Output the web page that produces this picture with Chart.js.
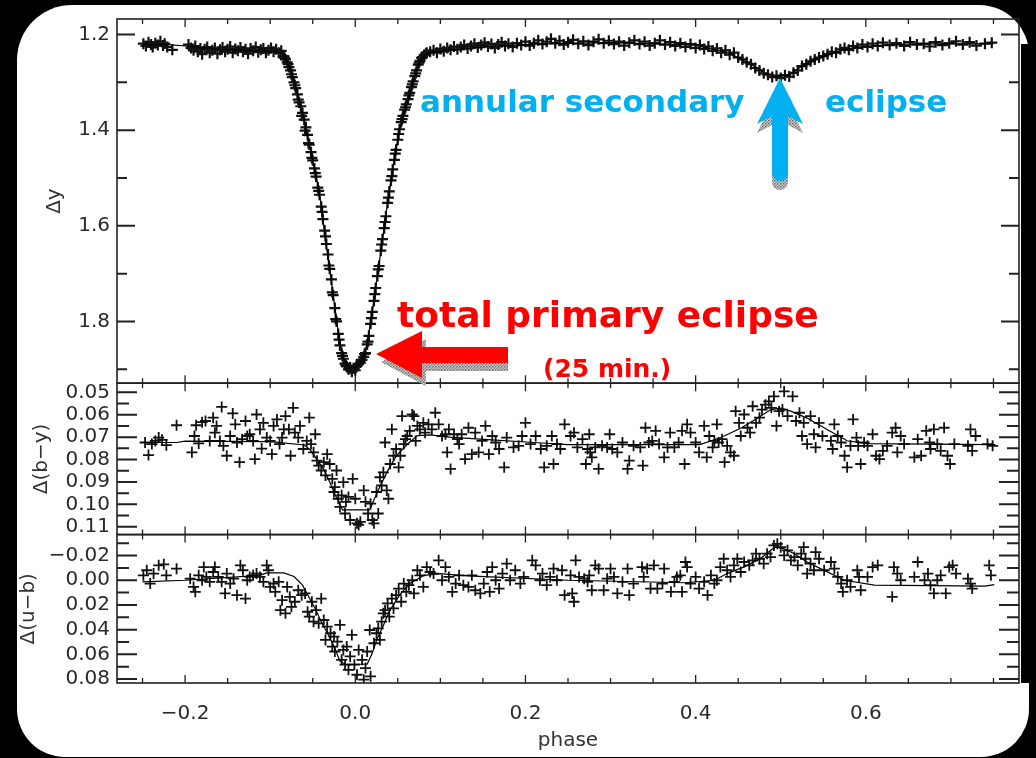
<!DOCTYPE html>
<html><head><meta charset="utf-8">
<script src="https://cdn.jsdelivr.net/npm/chart.js@4/dist/chart.umd.min.js"></script>
<style>
html,body{margin:0;padding:0;background:#000;width:1036px;height:758px;overflow:hidden;}
#panel{position:absolute;left:17px;top:5px;width:1012px;height:752px;background:#fff;border-radius:55px 50px 48px 48px;}
#strip{position:absolute;left:1021px;top:44px;width:15px;height:639px;background:#000;}
#c{position:absolute;left:0;top:0;}
svg{position:absolute;left:0;top:0;}
.ann{position:absolute;font-family:"DejaVu Sans";font-weight:bold;line-height:1;white-space:nowrap;}
</style></head><body>
<div id="panel"></div><div id="strip"></div>
<canvas id="c" width="1036" height="758"></canvas>
<svg width="1036" height="758">
<defs><pattern id="hatch" width="3" height="3" patternUnits="userSpaceOnUse"><rect width="3" height="3" fill="#d0d0d0"/><rect x="0" y="0" width="1.5" height="1.5" fill="#666"/><rect x="1.5" y="1.5" width="1.5" height="1.5" fill="#888"/></pattern></defs>
<polygon points="381,362 426,339 426,355 508,355 508,371 426,371 426,386" fill="url(#hatch)"/>
<polygon points="376,354 422,331 422,347 508,347 508,363 422,363 422,378" fill="#ff0000"/>
<path d="M780,87 L803,133 L788,125 L788,182 A8,8 0 0 1 772,182 L772,125 L757,133 Z" fill="url(#hatch)"/>
<path d="M780,78 L803,124 L788,116 L788,173 A8,8 0 0 1 772,173 L772,116 L757,124 Z" fill="#00b0f0"/>
</svg>
<div class="ann" style="left:420px;top:86px;font-size:31px;color:#00b0f0">annular secondary</div>
<div class="ann" style="left:825px;top:86px;font-size:31px;color:#00b0f0">eclipse</div>
<div class="ann" style="left:397px;top:297px;font-size:36px;color:#ff0000">total primary eclipse</div>
<div class="ann" style="left:543px;top:356px;font-size:25px;color:#ff0000">(25 min.)</div>
<script>
// ---------- data ----------
const topPhase = [-0.249,-0.246,-0.243,-0.240,-0.238,-0.235,-0.232,-0.229,-0.226,-0.224,
 -0.221,-0.215,-0.196,-0.193,-0.190,-0.188,-0.185,-0.182,-0.180,-0.177,
 -0.174,-0.171,-0.168,-0.165,-0.162,-0.159,-0.156,-0.153,-0.150,-0.147,
 -0.144,-0.141,-0.138,-0.135,-0.132,-0.129,-0.126,-0.123,-0.120,-0.117,
 -0.114,-0.111,-0.108,-0.105,-0.102,-0.099,-0.096,-0.093,-0.090,-0.087,
 -0.084,-0.082,-0.080,-0.078,-0.076,-0.074,-0.072,-0.070,-0.068,-0.066,
 -0.064,-0.062,-0.060,-0.058,-0.056,-0.054,-0.052,-0.050,-0.048,-0.046,
 -0.044,-0.042,-0.040,-0.038,-0.036,-0.034,-0.032,-0.030,-0.028,-0.026,
 -0.024,-0.022,-0.020,-0.018,-0.016,-0.014,-0.012,-0.010,-0.008,-0.006,
 -0.004,-0.002,0.000,0.002,0.004,0.006,0.008,0.010,0.012,0.014,
 0.016,0.018,0.020,0.022,0.024,0.026,0.028,0.030,0.032,0.034,
 0.036,0.038,0.040,0.042,0.044,0.046,0.048,0.050,0.052,0.054,
 0.056,0.058,0.060,0.062,0.064,0.066,0.068,0.070,0.072,0.074,
 0.076,0.078,0.081,0.084,0.088,0.092,0.096,0.100,0.104,0.108,
 0.112,0.116,0.120,0.124,0.128,0.132,0.136,0.140,0.144,0.148,
 0.152,0.156,0.160,0.164,0.168,0.172,0.176,0.180,0.185,0.190,
 0.195,0.200,0.205,0.210,0.215,0.220,0.225,0.230,0.235,0.240,
 0.245,0.250,0.256,0.262,0.268,0.274,0.280,0.286,0.292,0.298,
 0.304,0.310,0.316,0.322,0.328,0.334,0.340,0.346,0.352,0.358,
 0.364,0.370,0.376,0.382,0.388,0.394,0.400,0.405,0.410,0.415,
 0.420,0.425,0.430,0.435,0.440,0.445,0.450,0.455,0.460,0.465,
 0.470,0.475,0.480,0.485,0.490,0.495,0.500,0.505,0.510,0.515,
 0.520,0.525,0.530,0.535,0.540,0.545,0.550,0.555,0.560,0.565,
 0.570,0.575,0.580,0.585,0.590,0.596,0.602,0.608,0.614,0.620,
 0.628,0.636,0.645,0.652,0.660,0.668,0.675,0.682,0.690,0.698,
 0.706,0.714,0.722,0.730,0.740,0.748,
 -0.083,-0.079,-0.075,-0.071,-0.067,-0.063,-0.059,-0.055,-0.051,-0.047,
 -0.043,-0.039,-0.035,-0.031,-0.027,-0.023,-0.019,-0.015,-0.011,-0.007,
 0.007,0.011,0.015,0.019,0.023,0.027,0.031,0.035,0.039,0.043,
 0.047,0.051,0.055,0.059,0.063,0.067,0.071,0.075,0.079,0.083];
const topDy = [1.219,1.224,1.216,1.221,1.226,1.218,1.222,1.214,1.223,1.219,
 1.226,1.232,1.221,1.228,1.233,1.224,1.236,1.229,1.241,1.231,
 1.226,1.238,1.233,1.228,1.240,1.232,1.227,1.236,1.231,1.225,
 1.238,1.230,1.234,1.227,1.236,1.231,1.240,1.229,1.234,1.226,
 1.237,1.232,1.229,1.238,1.233,1.228,1.236,1.231,1.238,1.234,
 1.245,1.252,1.258,1.268,1.275,1.289,1.300,1.312,1.325,1.342,
 1.350,1.364,1.378,1.394,1.410,1.430,1.446,1.463,1.480,1.497,
 1.520,1.535,1.560,1.586,1.610,1.638,1.660,1.690,1.712,1.745,
 1.772,1.800,1.826,1.850,1.866,1.878,1.888,1.894,1.900,1.896,
 1.905,1.898,1.902,1.893,1.889,1.886,1.880,1.874,1.866,1.848,
 1.830,1.805,1.780,1.757,1.730,1.705,1.684,1.652,1.628,1.605,
 1.580,1.552,1.528,1.505,1.482,1.462,1.441,1.420,1.398,1.383,
 1.370,1.357,1.346,1.335,1.322,1.310,1.298,1.287,1.275,1.263,
 1.255,1.249,1.243,1.238,1.236,1.233,1.238,1.230,1.235,1.228,
 1.232,1.225,1.231,1.226,1.222,1.229,1.224,1.219,1.227,1.222,
 1.217,1.225,1.220,1.228,1.221,1.216,1.224,1.219,1.226,1.218,
 1.222,1.215,1.223,1.218,1.212,1.220,1.215,1.209,1.218,1.213,
 1.221,1.216,1.211,1.219,1.214,1.222,1.215,1.210,1.218,1.213,
 1.220,1.215,1.223,1.217,1.212,1.220,1.215,1.223,1.218,1.212,
 1.221,1.216,1.224,1.218,1.226,1.220,1.228,1.222,1.230,1.225,
 1.234,1.229,1.238,1.233,1.242,1.238,1.248,1.252,1.258,1.262,
 1.270,1.275,1.281,1.284,1.289,1.286,1.291,1.285,1.288,1.280,
 1.275,1.266,1.262,1.256,1.252,1.248,1.245,1.241,1.236,1.238,
 1.231,1.228,1.232,1.224,1.228,1.221,1.226,1.219,1.224,1.217,
 1.222,1.218,1.224,1.216,1.221,1.219,1.225,1.216,1.222,1.218,
 1.214,1.221,1.216,1.223,1.219,1.217,
 1.249,1.262,1.283,1.306,1.336,1.370,1.401,1.427,1.458,1.490,
 1.527,1.571,1.622,1.683,1.739,1.795,1.838,1.872,1.892,1.899,
 1.881,1.868,1.842,1.793,1.743,1.691,1.639,1.592,1.541,1.496,
 1.449,1.408,1.377,1.352,1.327,1.304,1.281,1.259,1.247,1.240];
const topModelPhase = [-0.25,-0.22,-0.20,-0.16,-0.12,-0.092,-0.085,-0.080,-0.075,-0.070,-0.065,-0.060,-0.055,-0.050,-0.045,-0.040,-0.035,-0.030,-0.025,-0.020,-0.016,-0.012,-0.008,0.000,0.006,0.010,0.014,0.018,0.022,0.028,0.034,0.040,0.046,0.052,0.060,0.068,0.075,0.082,0.090,0.110,0.150,0.210,0.300,0.400,0.440,0.465,0.480,0.495,0.510,0.525,0.540,0.560,0.578,0.600,0.650,0.750];
const topModelDy = [1.221,1.221,1.224,1.231,1.234,1.236,1.242,1.256,1.280,1.310,1.345,1.378,1.423,1.463,1.505,1.556,1.630,1.690,1.758,1.822,1.862,1.884,1.895,1.897,1.888,1.874,1.846,1.800,1.755,1.680,1.603,1.527,1.459,1.400,1.349,1.299,1.260,1.243,1.237,1.233,1.226,1.220,1.217,1.222,1.239,1.262,1.280,1.288,1.285,1.266,1.252,1.240,1.230,1.224,1.220,1.219];

const midPhase = [-0.247,-0.243,-0.239,-0.235,-0.231,-0.227,-0.222,-0.210,-0.192,-0.189,
 -0.187,-0.184,-0.180,-0.176,-0.171,-0.167,-0.165,-0.163,-0.159,-0.157,
 -0.155,-0.151,-0.147,-0.144,-0.141,-0.139,-0.136,-0.133,-0.129,-0.127,
 -0.124,-0.120,-0.118,-0.116,-0.112,-0.110,-0.108,-0.104,-0.100,-0.098,
 -0.096,-0.092,-0.089,-0.086,-0.084,-0.082,-0.078,-0.076,-0.073,-0.071,
 -0.067,-0.065,-0.061,-0.057,-0.054,-0.052,-0.049,-0.047,-0.045,-0.043,
 -0.040,-0.037,-0.035,-0.033,-0.030,-0.027,-0.025,-0.024,-0.022,-0.020,
 -0.018,-0.016,-0.014,-0.012,-0.011,-0.008,-0.006,-0.003,0.000,0.002,
 0.004,0.006,0.010,0.012,0.015,0.018,0.020,0.022,0.025,0.027,
 0.029,0.031,0.033,0.035,0.037,0.039,0.041,0.043,0.045,0.048,
 0.051,0.053,0.055,0.057,0.059,0.061,0.064,0.067,0.069,0.071,
 0.073,0.076,0.080,0.082,0.086,0.090,0.094,0.098,0.102,0.106,
 0.108,0.110,0.112,0.116,0.120,0.122,0.125,0.129,0.133,0.137,
 0.141,0.145,0.149,0.153,0.157,0.161,0.165,0.169,0.175,0.178,
 0.186,0.192,0.196,0.200,0.206,0.212,0.218,0.222,0.225,0.231,
 0.233,0.237,0.241,0.246,
 0.253,0.257,0.261,0.267,0.271,0.273,0.275,0.276,0.278,0.282,
 0.286,0.290,0.296,0.299,0.302,0.308,0.314,0.320,0.322,0.327,
 0.335,0.338,0.341,0.345,0.349,0.353,0.357,0.363,0.367,0.370,
 0.375,0.380,0.384,0.387,0.390,0.394,0.400,0.404,0.410,0.413,
 0.416,0.420,0.422,0.425,0.427,0.431,0.434,0.437,0.441,0.445,
 0.447,0.451,0.453,0.457,0.461,0.464,0.467,0.471,0.475,0.478,
 0.482,0.486,0.489,0.492,0.495,0.498,0.502,0.504,0.508,0.514,
 0.518,0.522,0.525,0.527,0.531,0.535,0.539,0.541,0.545,0.549,
 0.559,0.561,0.563,0.567,0.571,0.575,0.578,0.582,0.585,0.589,
 0.591,0.594,0.598,0.602,0.608,0.612,0.616,0.620,0.625,0.631,
 0.635,0.637,0.641,0.645,0.657,0.661,0.665,0.671,0.675,0.676,
 0.680,0.684,0.688,0.692,0.696,0.699,0.704,0.720,0.723,0.725,
 0.729,0.743,0.749];
const midBY = [0.0724,0.0780,0.0731,0.0717,0.0702,0.0712,0.0736,0.0647,0.0768,0.0695,
 0.0647,0.0728,0.0633,0.0628,0.0717,0.0613,0.0680,0.0650,0.0717,0.0565,
 0.0739,0.0783,0.0695,0.0594,0.0643,0.0724,0.0812,0.0709,0.0628,0.0695,
 0.0687,0.0717,0.0798,0.0599,0.0665,0.0751,0.0636,0.0702,0.0717,0.0776,
 0.0650,0.0621,0.0731,0.0702,0.0665,0.0606,0.0665,0.0783,0.0569,0.0680,
 0.0702,0.0650,0.0753,0.0717,0.0613,0.0731,0.0768,0.0687,0.0805,0.0827,
 0.0849,0.0812,0.0871,0.0776,0.0820,0.0886,0.0945,0.0923,0.0849,0.0975,
 0.1011,0.0960,0.0901,0.1041,0.0989,0.0967,0.1070,0.0886,0.0975,0.1085,
 0.1092,0.1078,0.0938,0.0989,0.1041,0.0997,0.1070,0.1085,0.0945,0.1041,
 0.0879,0.0916,0.0857,0.0724,0.0938,0.0975,0.0820,0.0665,0.0783,0.0753,
 0.0835,0.0783,0.0606,0.0731,0.0709,0.0695,0.0672,0.0599,0.0606,0.0717,
 0.0650,0.0665,0.0636,0.0680,0.0643,0.0665,0.0591,0.0643,0.0695,0.0687,
 0.0768,0.0665,0.0842,0.0687,0.0709,0.0731,0.0687,0.0798,0.0658,0.0776,
 0.0680,0.0768,0.0717,0.0650,0.0776,0.0695,0.0724,0.0753,0.0835,0.0702,
 0.0746,0.0739,0.0695,0.0636,0.0731,0.0695,0.0753,0.0835,0.0739,0.0695,
 0.0820,0.0731,0.0753,0.0643,
 0.0695,0.0680,0.0746,0.0709,0.0820,0.0753,0.0687,0.0768,0.0790,0.0746,
 0.0842,0.0739,0.0746,0.0687,0.0753,0.0768,0.0724,0.0842,0.0805,0.0739,
 0.0746,0.0827,0.0658,0.0724,0.0717,0.0672,0.0731,0.0790,0.0746,0.0680,
 0.0746,0.0724,0.0672,0.0820,0.0643,0.0680,0.0724,0.0768,0.0650,0.0790,
 0.0695,0.0746,0.0717,0.0643,0.0724,0.0709,0.0812,0.0739,0.0768,0.0783,
 0.0584,0.0636,0.0695,0.0599,0.0658,0.0680,0.0562,0.0636,0.0613,0.0577,
 0.0555,0.0540,0.0569,0.0518,0.0650,0.0584,0.0577,0.0496,0.0606,0.0518,
 0.0628,0.0591,0.0695,0.0636,0.0731,0.0606,0.0687,0.0746,0.0636,0.0695,
 0.0717,0.0753,0.0643,0.0695,0.0724,0.0783,0.0835,0.0739,0.0621,0.0702,
 0.0739,0.0820,0.0724,0.0739,0.0687,0.0783,0.0798,0.0761,0.0739,0.0680,
 0.0658,0.0768,0.0695,0.0731,0.0790,0.0709,0.0783,0.0672,0.0724,0.0753,
 0.0665,0.0731,0.0761,0.0658,0.0783,0.0820,0.0731,0.0739,0.0665,0.0761,
 0.0695,0.0731,0.0739];
const midModelPhase = [-0.25,-0.21,-0.20,-0.10,-0.06,-0.053,-0.045,-0.037,-0.030,-0.025,-0.015,0.017,0.022,0.029,0.039,0.049,0.061,0.073,0.088,0.111,0.151,0.21,0.25,0.405,0.429,0.453,0.473,0.488,0.500,0.511,0.531,0.555,0.578,0.602,0.752];
const midModelBY = [0.0724,0.0724,0.0718,0.0720,0.0735,0.0756,0.0800,0.0844,0.0900,0.0946,0.1025,0.1025,0.0980,0.0920,0.0844,0.0780,0.0733,0.0693,0.0690,0.0700,0.0710,0.0724,0.0733,0.0733,0.0703,0.0660,0.0615,0.0578,0.0570,0.0583,0.0615,0.0667,0.0716,0.0729,0.0733];

const botPhase = [-0.249,-0.245,-0.241,-0.237,-0.231,-0.225,-0.222,-0.210,-0.194,-0.190,
 -0.188,-0.184,-0.180,-0.178,-0.175,-0.171,-0.167,-0.165,-0.161,-0.157,
 -0.153,-0.151,-0.147,-0.143,-0.139,-0.135,-0.132,-0.129,-0.127,-0.124,
 -0.120,-0.116,-0.112,-0.108,-0.104,-0.102,-0.100,-0.096,-0.094,-0.090,
 -0.088,-0.086,-0.082,-0.080,-0.077,-0.075,-0.071,-0.067,-0.063,-0.059,
 -0.056,-0.054,-0.051,-0.049,-0.046,-0.043,-0.040,-0.037,-0.035,-0.033,
 -0.029,-0.027,-0.025,-0.024,-0.021,-0.018,-0.016,-0.014,-0.012,-0.010,
 -0.008,-0.006,-0.004,-0.001,0.002,0.004,0.008,0.010,0.012,0.014,
 0.017,0.018,0.022,0.025,0.027,0.029,0.031,0.033,0.035,0.038,
 0.040,0.043,0.045,0.048,0.051,0.054,0.057,0.060,0.063,0.067,
 0.069,0.073,0.076,0.080,0.084,0.088,0.092,0.098,0.102,0.106,
 0.110,0.114,0.118,0.122,0.127,0.133,0.137,0.141,0.147,0.151,
 0.155,0.158,0.161,0.165,0.169,0.173,0.178,0.182,0.188,0.194,
 0.198,0.208,0.212,0.217,0.220,0.225,0.229,0.233,0.237,0.243,
 0.246,
 0.253,0.255,0.257,0.259,0.263,0.269,0.273,0.275,0.278,0.282,
 0.286,0.292,0.296,0.300,0.304,0.308,0.314,0.320,0.322,0.327,
 0.337,0.339,0.343,0.347,0.351,0.355,0.361,0.363,0.371,0.375,
 0.378,0.382,0.384,0.388,0.390,0.394,0.400,0.404,0.410,0.414,
 0.418,0.422,0.425,0.429,0.433,0.437,0.441,0.445,0.449,0.453,
 0.457,0.463,0.467,0.471,0.475,0.480,0.484,0.488,0.492,0.496,
 0.500,0.504,0.508,0.512,0.516,0.520,0.524,0.527,0.529,0.531,
 0.535,0.539,0.541,0.545,0.551,0.559,0.563,0.567,0.571,0.573,
 0.578,0.582,0.590,0.592,0.594,0.602,0.608,0.614,0.631,0.633,
 0.637,0.641,0.657,0.661,0.669,0.673,0.676,0.680,0.684,0.688,
 0.694,0.698,0.702,0.706,0.720,0.723,0.725,0.745,0.747];
const botUB = [-0.0040,-0.0081,0.0027,-0.0054,-0.0121,-0.0129,-0.0040,-0.0094,-0.0013,0.0054,
 0.0094,-0.0040,0.0000,-0.0107,-0.0027,0.0013,-0.0067,-0.0107,-0.0027,0.0013,
 0.0107,-0.0054,0.0027,-0.0013,0.0121,-0.0121,-0.0081,0.0148,0.0000,-0.0027,
 -0.0040,-0.0054,-0.0027,0.0013,-0.0121,-0.0081,0.0054,0.0027,0.0094,0.0013,
 0.0242,0.0161,0.0268,0.0054,0.0134,0.0215,0.0174,0.0081,0.0121,0.0107,
 0.0255,0.0295,0.0174,0.0335,0.0242,0.0349,0.0148,0.0322,0.0483,0.0376,
 0.0429,0.0537,0.0456,0.0577,0.0497,0.0362,0.0644,0.0564,0.0684,0.0537,
 0.0725,0.0617,0.0443,0.0684,0.0765,0.0564,0.0644,0.0805,0.0711,0.0577,
 0.0403,0.0778,0.0510,0.0429,0.0389,0.0483,0.0335,0.0268,0.0242,0.0188,
 0.0295,0.0148,0.0228,0.0121,0.0067,0.0174,0.0027,0.0094,0.0040,0.0000,
 0.0107,-0.0081,-0.0040,0.0054,-0.0107,-0.0067,-0.0054,-0.0161,0.0000,-0.0107,
 -0.0027,0.0094,0.0027,-0.0040,0.0040,0.0054,-0.0040,0.0081,0.0107,0.0027,
 -0.0067,0.0094,-0.0107,0.0000,0.0067,-0.0054,-0.0134,0.0000,-0.0081,0.0027,
 -0.0027,-0.0161,-0.0121,0.0000,-0.0054,0.0040,-0.0027,-0.0094,0.0000,-0.0081,
 0.0121,
 -0.0040,0.0107,0.0174,-0.0161,-0.0027,-0.0013,0.0013,-0.0040,0.0081,-0.0121,
 -0.0094,0.0081,-0.0013,-0.0094,-0.0027,0.0107,0.0013,-0.0094,0.0121,0.0027,
 -0.0107,-0.0027,-0.0094,0.0067,-0.0121,0.0067,0.0027,-0.0094,0.0094,0.0013,
 -0.0027,-0.0040,0.0094,-0.0148,-0.0107,0.0027,-0.0027,0.0067,0.0013,0.0121,
 -0.0040,0.0027,0.0000,-0.0107,-0.0174,-0.0081,-0.0027,-0.0121,-0.0174,-0.0067,
 -0.0148,-0.0121,-0.0161,-0.0215,-0.0174,-0.0134,-0.0215,-0.0188,-0.0282,-0.0295,
 -0.0268,-0.0201,-0.0242,-0.0161,-0.0188,-0.0121,-0.0215,-0.0268,-0.0174,-0.0054,
 -0.0134,-0.0081,-0.0228,-0.0174,-0.0081,-0.0148,-0.0094,-0.0027,0.0027,0.0094,
 0.0000,0.0054,-0.0081,-0.0027,0.0081,-0.0027,-0.0107,-0.0121,0.0134,-0.0107,
 -0.0054,0.0000,-0.0027,-0.0148,0.0000,-0.0054,0.0040,0.0107,0.0000,-0.0040,
 0.0107,-0.0107,-0.0121,-0.0054,-0.0013,0.0027,0.0067,-0.0121,-0.0040];
const botModelPhase = [-0.25,-0.20,-0.112,-0.104,-0.084,-0.072,-0.062,-0.055,-0.047,-0.039,-0.031,-0.024,-0.018,-0.012,0.014,0.020,0.025,0.033,0.040,0.052,0.064,0.081,0.100,0.123,0.152,0.25,0.387,0.422,0.437,0.457,0.476,0.493,0.504,0.516,0.531,0.551,0.575,0.61,0.74,0.751];
const botModelUB = [0.0013,0.0000,-0.0040,-0.0060,-0.0060,-0.0030,0.0040,0.0130,0.0230,0.0350,0.0450,0.0550,0.0655,0.0680,0.0680,0.0590,0.0486,0.0366,0.0252,0.0120,0.0027,-0.0040,-0.0054,-0.0040,-0.0030,0.0000,0.0020,0.0000,-0.0054,-0.0108,-0.0175,-0.0270,-0.0255,-0.0215,-0.0148,-0.0080,0.0000,0.0040,0.0048,0.0035];

// axis ticks
const xLabelTicks = [-0.2, 0.0, 0.2, 0.4, 0.6];
const xMinorTicks = [-0.25,-0.15,-0.1,-0.05,0.05,0.1,0.15,0.25,0.3,0.35,0.45,0.5,0.55,0.65,0.7,0.75];
const topLabelTicks = [1.2, 1.4, 1.6, 1.8];
const topMinorTicks = [1.3, 1.5, 1.7, 1.9];
const midLabelTicks = [0.05, 0.06, 0.07, 0.08, 0.09, 0.10, 0.11];
const midMinorTicks = [0.055, 0.065, 0.075, 0.085, 0.095, 0.105];
const botLabelTicks = [-0.02, 0.00, 0.02, 0.04, 0.06, 0.08];
const botMinorTicks = [-0.03, -0.01, 0.01, 0.03, 0.05, 0.07];

// ---------- chart ----------
const zip = (xs, ys) => xs.map((x, i) => ({x: x, y: ys[i]}));
const fmt = (v, d) => Number(v).toFixed(d).replace('-', '\u2212');
const FONT = {family: 'DejaVu Sans', size: 20};

function yScale(min, max, weight, stackWeight, labels, dec, title, tpad) {
  return {
    type: 'linear', position: 'left', stack: 'panels', stackWeight: stackWeight, weight: weight,
    reverse: true, min: min, max: max,
    grid: {display: false, drawTicks: false}, border: {display: false},
    afterBuildTicks: s => { s.ticks = labels.map(v => ({value: v})); },
    afterFit: s => { s.width = 117; },
    ticks: {autoSkip: false, padding: 7, font: FONT, color: '#2a2a2a', callback: v => fmt(v, dec)},
    title: {display: true, text: title, font: FONT, color: '#333', padding: {top: tpad, bottom: 0}}
  };
}

const framePlugin = {
  id: 'frame',
  afterDraw(chart) {
    const ctx = chart.ctx, ca = chart.chartArea, xs = chart.scales.x;
    const panels = [
      ['yTop', topLabelTicks, topMinorTicks, 18, 10],
      ['yMid', midLabelTicks, midMinorTicks, 20, 12],
      ['yBot', botLabelTicks, botMinorTicks, 20, 12]
    ];
    ctx.save();
    ctx.strokeStyle = '#222';
    for (const [id, maj, mnr, lMaj, lMin] of panels) {
      const s = chart.scales[id];
      ctx.lineWidth = 2;
      ctx.beginPath();
      for (const [arr, len] of [[maj, lMaj], [mnr, lMin]]) {
        for (const v of arr) {
          const y = s.getPixelForValue(v);
          ctx.moveTo(ca.left, y); ctx.lineTo(ca.left + len, y);
          ctx.moveTo(ca.right, y); ctx.lineTo(ca.right - len, y);
        }
      }
      ctx.stroke();
      ctx.lineWidth = 1.3;
      ctx.beginPath();
      for (const [arr, len] of [[xLabelTicks, 8], [xMinorTicks, 5]]) {
        for (const v of arr) {
          const x = xs.getPixelForValue(v);
          ctx.moveTo(x, s.top); ctx.lineTo(x, s.top + len);
          ctx.moveTo(x, s.bottom); ctx.lineTo(x, s.bottom - len);
        }
      }
      ctx.stroke();
      ctx.lineWidth = 1.6;
      ctx.strokeRect(ca.left, s.top, ca.right - ca.left, s.bottom - s.top);
    }
    ctx.restore();
  }
};

const pts = (data, axis, r, w) => ({data: data, yAxisID: axis, showLine: false, pointStyle: 'cross', pointRadius: r, pointHoverRadius: r, borderColor: '#111', backgroundColor: '#111', borderWidth: w});
const mdl = (data, axis) => ({data: data, yAxisID: axis, showLine: true, pointRadius: 0, borderColor: '#000', borderWidth: 1.2, fill: false, tension: 0});

new Chart(document.getElementById('c'), {
  type: 'scatter',
  data: {datasets: [
    mdl(zip(topModelPhase, topModelDy), 'yTop'),
    pts(zip(topPhase, topDy), 'yTop', 5.5, 2.2),
    mdl(zip(midModelPhase, midModelBY), 'yMid'),
    pts(zip(midPhase, midBY), 'yMid', 5.5, 1.8),
    mdl(zip(botModelPhase, botModelUB), 'yBot'),
    pts(zip(botPhase, botUB), 'yBot', 5.5, 1.8)
  ]},
  options: {
    responsive: false, animation: false, devicePixelRatio: 1,
    layout: {padding: {left: 0, right: 17, top: 12, bottom: 0}},
    plugins: {legend: {display: false}, tooltip: {enabled: false}},
    events: [],
    scales: {
      x: {
        type: 'linear', position: 'bottom', min: -0.28, max: 0.78,
        grid: {display: false, drawTicks: false}, border: {display: false},
        afterBuildTicks: s => { s.ticks = xLabelTicks.map(v => ({value: v})); },
        afterFit: s => { s.height = 75; },
        ticks: {autoSkip: false, maxRotation: 0, padding: 19, font: FONT, color: '#2a2a2a', callback: v => fmt(v, 1)},
        title: {display: true, text: 'phase', font: FONT, color: '#333', padding: {top: 0, bottom: 5}}
      },
      yTop: yScale(1.1675, 1.929, 3, 368, topLabelTicks, 1, '\u0394y', 43),
      yMid: yScale(0.0459, 0.1135, 2, 153, midLabelTicks, 2, '\u0394(b\u2212y)', 30),
      yBot: yScale(-0.037, 0.0832, 1, 150, botLabelTicks, 2, '\u0394(u\u2212b)', 17)
    }
  },
  plugins: [framePlugin]
});
</script>
</body></html>
